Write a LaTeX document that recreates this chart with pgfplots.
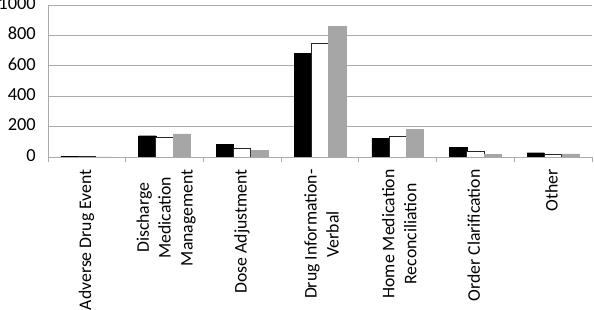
\documentclass[border=0pt]{standalone}
\usepackage{fontspec}
\setmainfont{Carlito}
\usepackage{pgfplots}
\pgfplotsset{compat=1.18}
\definecolor{barGray}{RGB}{166,166,166}
\definecolor{gridGray}{RGB}{170,170,170}
\begin{document}
\begin{tikzpicture}
\useasboundingbox (0,0) rectangle (594bp,310bp);
\begin{axis}[
  at={(48bp,153bp)}, anchor=south west,
  scale only axis, width=544bp, height=152bp,
  xmin=-0.5, xmax=6.5, ymin=0, ymax=1000,
  ytick={0,200,...,1000},
  ymajorgrids, grid style={gridGray, line width=0.8pt},
  axis x line*=bottom, axis y line*=left,
  axis line style={-, gridGray, line width=0.8pt},
  ybar=0pt, bar width=17.3bp,
  xtick={0,...,6},
  xticklabels={Adverse Drug Event, Discharge\\Medication\\Management, Dose Adjustment, Drug Information-\\Verbal, Home Medication\\Reconciliation, Order Clarification, Other},
  xticklabel style={yshift=-6bp, rotate=90, anchor=east, align=center, font=\fontsize{17.8}{22}\selectfont},
  xtick style={draw=none},
  extra x ticks={-0.5,0.5,...,6.5},
  extra x tick labels={},
  extra x tick style={xtick style={draw=gridGray, line width=0.8pt}, major tick length=5bp, tick align=outside, grid=none},
  ytick style={draw=none},
  yticklabel style={font=\fontsize{18.5}{22}\selectfont, xshift=-10bp},
  /pgf/number format/assume math mode=true,
  /pgf/number format/1000 sep={},
  typeset ticklabels with strut,
  tick label style={inner sep=2bp},
]
\addplot[fill=black, draw=black, line width=0.4pt] coordinates {(0,5) (1,140) (2,84) (3,680) (4,123) (5,64) (6,28)};
\addplot[fill=white, draw=black!85, line width=0.9pt] coordinates {(0,5) (1,130) (2,55) (3,745) (4,132) (5,37) (6,20)};
\addplot[fill=barGray, draw=barGray, line width=0.4pt] coordinates {(0,1) (1,152) (2,46) (3,860) (4,180) (5,18) (6,20)};
\end{axis}
\end{tikzpicture}
\end{document}
